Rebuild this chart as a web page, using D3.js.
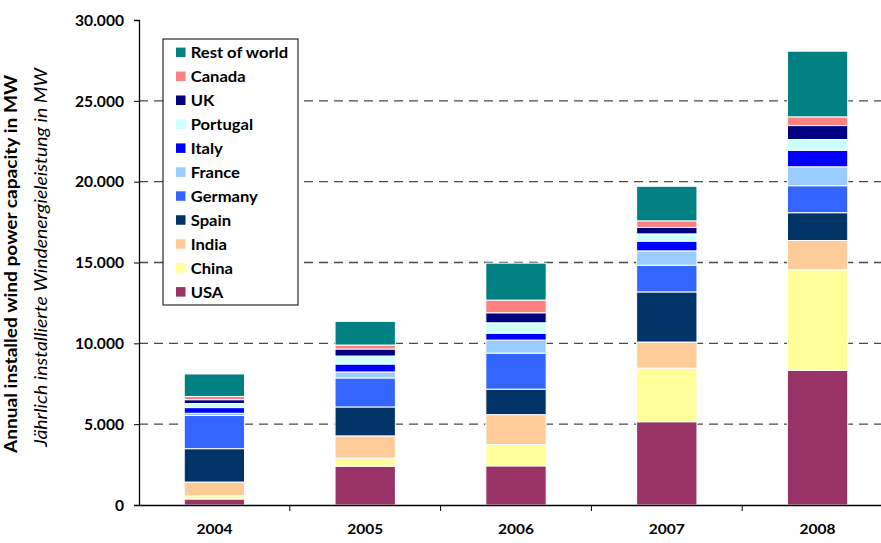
<!DOCTYPE html>
<html><head><meta charset="utf-8">
<script src="https://cdn.jsdelivr.net/npm/d3@7"></script>
<style>body{margin:0;background:#fff}svg{display:block}</style>
</head><body>
<svg id="chart" width="881" height="543"></svg>
<script>
const years = ["2004","2005","2006","2007","2008"];
const series = ["USA","China","India","Spain","Germany","France","Italy","Portugal","UK","Canada","Rest of world"];
const colors = ["#993366","#FFFF99","#FFCC99","#003366","#3366FF","#99CCFF","#0000FF","#CCFFFF","#000080","#FF8080","#008080"];
const USA      = [370, 2400, 2420, 5150, 8320];
const China    = [200, 495, 1320, 3310, 6230];
const India    = [850, 1380, 1850, 1620, 1810];
const Spain    = [2065, 1790, 1575, 3100, 1720];
const Germany  = [2050, 1795, 2230, 1655, 1670];
const France   = [140, 370, 805, 885, 1170];
const Italy    = [350, 490, 430, 600, 1010];
const Portugal = [255, 495, 640, 450, 680];
const UK       = [235, 435, 620, 400, 860];
const Canada   = [200, 245, 785, 405, 540];
const RestOfWorld = [1390, 1465, 2285, 2140, 4060];
const yTicks = [0, 5000, 10000, 15000, 20000, 25000, 30000];

(function(){
const valuesBySeries = [USA, China, India, Spain, Germany, France, Italy, Portugal, UK, Canada, RestOfWorld];
const table = years.map((yr, i) => {
  const row = {year: yr};
  series.forEach((s, k) => row[s] = valuesBySeries[k][i]);
  return row;
});
const stacked = d3.stack().keys(series)(table);

const svg = d3.select("#chart");
const mLeft = 139, mRight = 893, mTop = 20, mBottom = 505;
const x = d3.scaleBand().domain(years).range([mLeft, mRight]).paddingInner(0.6).paddingOuter(0.3);
const xb = d3.scaleBand().domain(years).range([mLeft, mRight]);
const y = d3.scaleLinear().domain([0, 30000]).range([mBottom, mTop]);
const font = "Lato, 'Open Sans', sans-serif";
const fmt = v => v === 0 ? "0" : d3.format(",")(v).replace(/,/g, ".");

// horizontal stretch factor so a reference string reaches a target width
function stretch(sel, refText, target) {
  const probe = svg.append("text").attr("font-family", sel.attr("font-family"))
    .attr("font-weight", sel.attr("font-weight")).attr("font-size", sel.attr("font-size")).text(refText);
  const w = probe.node().getComputedTextLength();
  probe.remove();
  return target / w;
}

svg.append("g").selectAll("line").data(yTicks.filter(t => t > 0 && t < 30000)).join("line")
  .attr("x1", mLeft).attr("x2", 881).attr("y1", d => y(d)).attr("y2", d => y(d))
  .attr("stroke", "#4a4a4a").attr("stroke-width", 1.3).attr("stroke-dasharray", "9,6");

svg.append("g").selectAll("g").data(stacked).join("g")
  .attr("fill", (d, i) => colors[i])
  .selectAll("rect").data(d => d).join("rect")
  .attr("x", d => x(d.data.year)).attr("width", x.bandwidth())
  .attr("y", d => y(d[1])).attr("height", d => y(d[0]) - y(d[1]))
  .attr("stroke", "#fff").attr("stroke-width", 1);

const yAxis = svg.append("g").attr("transform", `translate(${mLeft},0)`)
  .call(d3.axisLeft(y).tickValues(yTicks).tickFormat(fmt).tickSize(5).tickPadding(0));
yAxis.select(".domain").attr("stroke", "#000").attr("stroke-width", 1.3);
yAxis.selectAll(".tick line").attr("stroke", "#000");
const yt = yAxis.selectAll("text").attr("font-family", font).attr("font-weight", "bold")
  .attr("font-size", 14.5).attr("fill", "#000").attr("x", 0).attr("dy", "0.36em");
const syk = stretch(yt, "30.000", 49);
yt.attr("transform", `translate(-15,0) scale(${syk},1)`);

const xAxis = svg.append("g").attr("transform", `translate(0,${mBottom})`)
  .call(d3.axisBottom(xb).tickSize(0).tickPadding(0));
xAxis.select(".domain").attr("stroke", "#000").attr("stroke-width", 1.5);
const xt = xAxis.selectAll("text").attr("font-family", font).attr("font-weight", "bold")
  .attr("font-size", 12.5).attr("fill", "#000").attr("y", 0).attr("dy", 0);
const sxk = stretch(xt, "2004", 36);
xAxis.selectAll(".tick text").attr("transform", `translate(0,29) scale(${sxk},1)`);
svg.append("g").selectAll("line").data(years.slice(1)).join("line")
  .attr("x1", d => xb(d)).attr("x2", d => xb(d)).attr("y1", mBottom).attr("y2", mBottom + 6)
  .attr("stroke", "#000");

svg.append("text").attr("transform", "translate(16.5,264) rotate(-90)").attr("text-anchor", "middle")
  .attr("font-family", font).attr("font-weight", "bold").attr("font-size", 16.5)
  .attr("textLength", 378).attr("lengthAdjust", "spacingAndGlyphs")
  .text("Annual installed wind power capacity in MW");
svg.append("text").attr("transform", "translate(46.5,257.5) rotate(-90)").attr("text-anchor", "middle")
  .attr("font-family", font).attr("font-style", "italic").attr("font-size", 16.5)
  .attr("textLength", 379).attr("lengthAdjust", "spacingAndGlyphs")
  .text("Jährlich installierte Windenergieleistung in MW");

const lg = svg.append("g");
lg.append("rect").attr("x", 163).attr("y", 39).attr("width", 135).attr("height", 266)
  .attr("fill", "#fff").attr("stroke", "#000").attr("stroke-width", 1);
const legendOrder = series.slice().reverse();
const items = lg.selectAll("g.item").data(legendOrder).join("g")
  .attr("transform", (d, i) => `translate(176,${52.3 + i * 23.95})`);
items.append("rect").attr("x", 0).attr("y", -4.7).attr("width", 9.5).attr("height", 9.5)
  .attr("fill", d => colors[series.indexOf(d)]);
const lt = items.append("text").attr("x", 0).attr("y", 0).attr("dy", "0.36em")
  .attr("font-family", font).attr("font-weight", "bold").attr("font-size", 16).text(d => d);
const slk = stretch(lt, "Rest of world", 97.5);
lt.attr("transform", `translate(14.7,0) scale(${slk},1)`);
})();
</script>
</body></html>
